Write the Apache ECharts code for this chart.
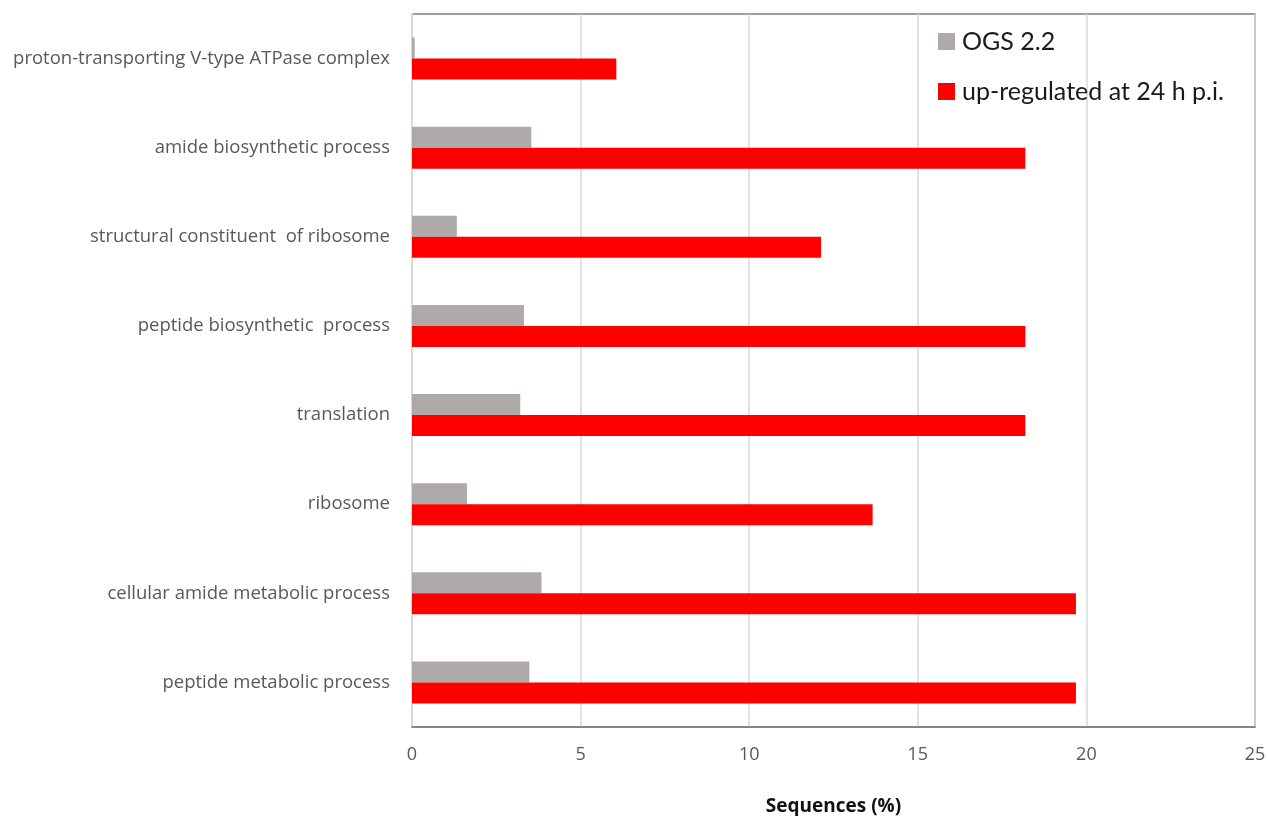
<!DOCTYPE html>
<html style="height: 100%">

<head>
    <meta charset="utf-8">
    <title>GO enrichment - sequences (%)</title>
</head>

<body style="height: 100%; margin: 0; background: #fff">
    <div id="container" style="width: 1268px; height: 816px"></div>
    <script src="https://cdn.jsdelivr.net/npm/echarts@6/dist/echarts.min.js"></script>
    <script type="text/javascript">
        // categories, listed bottom to top
        var categories = [
            'peptide metabolic process',
            'cellular amide metabolic process',
            'ribosome',
            'translation',
            'peptide biosynthetic  process',
            'structural constituent  of ribosome',
            'amide biosynthetic process',
            'proton-transporting V-type ATPase complex'
        ];
        var ogsValues = [3.48, 3.84, 1.63, 3.21, 3.32, 1.33, 3.54, 0.08];
        var upValues = [19.69, 19.69, 13.66, 18.19, 18.19, 12.13, 18.19, 6.06];
        var xTicks = [0, 5, 10, 15, 20, 25];

        var myChart = echarts.init(document.getElementById('container'));

        var option = {
            animation: false,
            grid: {
                left: 412,
                right: 13,
                top: 14,
                bottom: 89,
                outerBoundsMode: 'none',
                show: true,
                borderColor: '#7f7f7f',
                borderWidth: 1.5
            },
            legend: {
                orient: 'vertical',
                left: 933,
                top: 24,
                itemWidth: 17,
                itemHeight: 17,
                itemGap: 25,
                icon: 'rect',
                data: ['OGS 2.2', 'up-regulated at 24 h p.i.'],
                textStyle: {
                    fontFamily: 'Lato',
                    fontSize: 25,
                    lineHeight: 25,
                    color: '#1a1a1a',
                    padding: [0, 0, 0, 2]
                }
            },
            xAxis: {
                type: 'value',
                min: 0,
                max: 25,
                interval: 5,
                name: 'Sequences (%)',
                nameLocation: 'middle',
                nameGap: 70,
                nameTextStyle: {
                    fontFamily: 'Open Sans',
                    fontWeight: 'bold',
                    fontSize: 19,
                    color: '#111'
                },
                axisLine: { show: true, lineStyle: { color: '#7f7f7f', width: 1.5 } },
                axisTick: { show: false },
                axisLabel: {
                    margin: 19,
                    fontFamily: 'Open Sans',
                    fontSize: 18,
                    color: '#595959',
                    formatter: function (v) {
                        return xTicks.indexOf(v) >= 0 ? String(v) : '';
                    }
                },
                splitLine: { show: true, lineStyle: { color: '#d9d9d9', width: 1.5 } }
            },
            yAxis: {
                type: 'category',
                data: categories,
                axisLine: { show: true, lineStyle: { color: '#d9d9d9', width: 2 } },
                axisTick: { show: false },
                axisLabel: {
                    margin: 22,
                    fontFamily: 'Open Sans',
                    fontSize: 18.5,
                    color: '#595959'
                }
            },
            series: [{
                name: 'OGS 2.2',
                type: 'bar',
                data: ogsValues,
                barWidth: 21,
                barGap: '0%',
                itemStyle: { color: '#aeaaaa' }
            }, {
                name: 'up-regulated at 24 h p.i.',
                type: 'bar',
                data: upValues,
                barWidth: 21,
                barGap: '0%',
                itemStyle: { color: '#ff0000' }
            }]
        };
        myChart.setOption(option);
    </script>
</body>

</html>
